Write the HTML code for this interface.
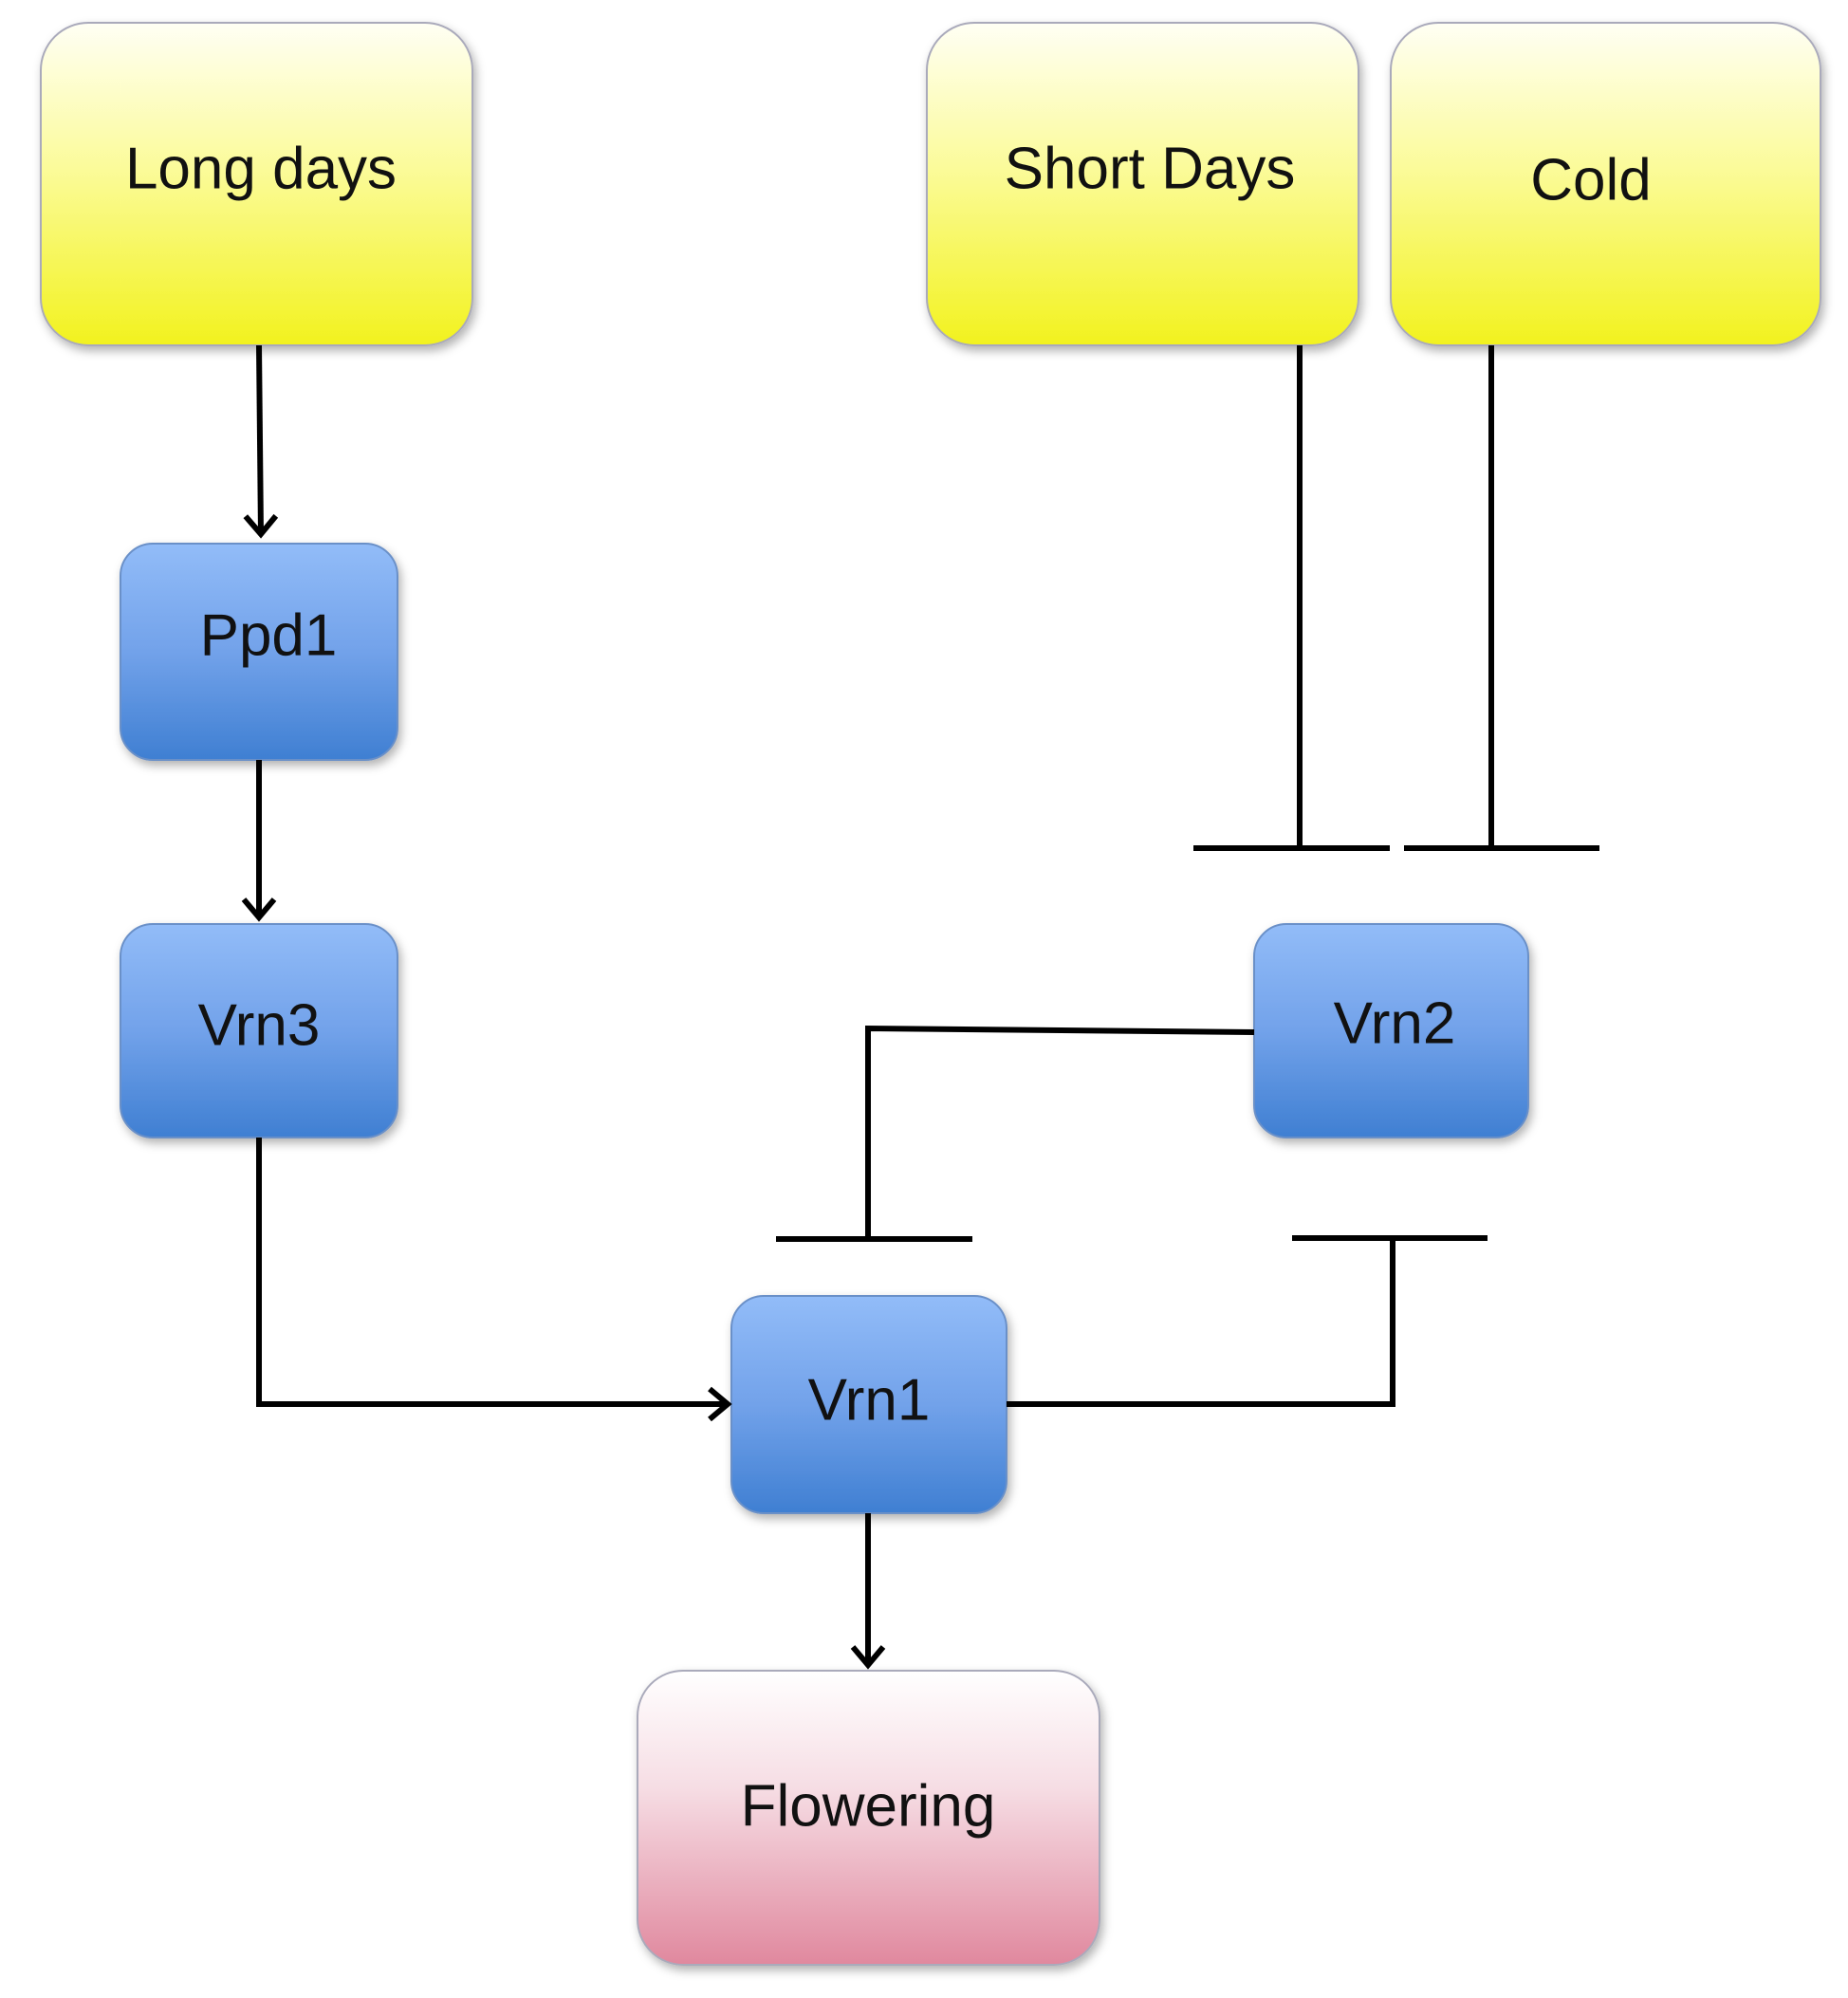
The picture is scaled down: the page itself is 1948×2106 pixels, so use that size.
<!DOCTYPE html>
<html><head><meta charset="utf-8"><style>
html,body{margin:0;padding:0;background:#fff;width:1948px;height:2106px;overflow:hidden}
svg{display:block}
text{font-family:"Liberation Sans",sans-serif;font-size:62px;fill:#111;text-anchor:middle;dominant-baseline:middle}
</style></head><body>
<svg width="1948" height="2106" viewBox="0 0 1948 2106" xmlns="http://www.w3.org/2000/svg">
<defs>
<linearGradient id="y" x1="0" y1="0" x2="0" y2="1"><stop offset="0" stop-color="#fffff4"/><stop offset="0.45" stop-color="#fbfb9a"/><stop offset="1" stop-color="#f2f21e"/></linearGradient>
<linearGradient id="b" x1="0" y1="0" x2="0" y2="1"><stop offset="0" stop-color="#92bcf8"/><stop offset="0.5" stop-color="#72a2ea"/><stop offset="1" stop-color="#3f7fd2"/></linearGradient>
<linearGradient id="p" x1="0" y1="0" x2="0" y2="1"><stop offset="0" stop-color="#ffffff"/><stop offset="0.4" stop-color="#f6dde4"/><stop offset="1" stop-color="#e0889e"/></linearGradient>
<filter id="s" x="-10%" y="-10%" width="130%" height="130%"><feDropShadow dx="3" dy="5" stdDeviation="5" flood-color="#000" flood-opacity="0.3"/></filter>
<marker id="a" markerWidth="40" markerHeight="40" refX="30" refY="20" orient="auto" markerUnits="userSpaceOnUse" viewBox="0 0 40 40"><path d="M10,4 L29,20 L10,36" fill="none" stroke="#000" stroke-width="6" stroke-linejoin="miter"/></marker>
</defs>
<g stroke="#aab" stroke-width="2" filter="url(#s)">
<rect x="43" y="24" width="455" height="340" rx="50" fill="url(#y)"/>
<rect x="977" y="24" width="455" height="340" rx="50" fill="url(#y)"/>
<rect x="1466" y="24" width="453" height="340" rx="50" fill="url(#y)"/>
<rect x="127" y="573" width="292" height="228" rx="34" fill="url(#b)" stroke="#6a90c8"/>
<rect x="127" y="974" width="292" height="225" rx="34" fill="url(#b)" stroke="#6a90c8"/>
<rect x="771" y="1366" width="290" height="229" rx="34" fill="url(#b)" stroke="#6a90c8"/>
<rect x="1322" y="974" width="289" height="225" rx="34" fill="url(#b)" stroke="#6a90c8"/>
<rect x="672" y="1761" width="487" height="310" rx="48" fill="url(#p)"/>
</g>
<g stroke="#000" stroke-width="6" fill="none">
<line x1="273" y1="364" x2="275" y2="564" marker-end="url(#a)"/>
<line x1="273" y1="801" x2="273" y2="968" marker-end="url(#a)"/>
<polyline points="273,1199 273,1480 768,1480" marker-end="url(#a)"/>
<line x1="915" y1="1595" x2="915" y2="1756" marker-end="url(#a)"/>
<line x1="1370" y1="364" x2="1370" y2="894"/>
<line x1="1258" y1="894" x2="1465" y2="894"/>
<line x1="1572" y1="364" x2="1572" y2="894"/>
<line x1="1480" y1="894" x2="1686" y2="894"/>
<polyline points="1322,1088 915,1084 915,1306"/>
<line x1="818" y1="1306" x2="1025" y2="1306"/>
<polyline points="1061,1480 1468,1480 1468,1305"/>
<line x1="1362" y1="1305" x2="1568" y2="1305"/>
</g>
<text x="275" y="182">Long days</text>
<text x="1212" y="182">Short Days</text>
<text x="1677" y="194">Cold</text>
<text x="283" y="674">Ppd1</text>
<text x="273" y="1085">Vrn3</text>
<text x="916" y="1480">Vrn1</text>
<text x="1470" y="1083">Vrn2</text>
<text x="915" y="1908">Flowering</text>
</svg>
</body></html>
